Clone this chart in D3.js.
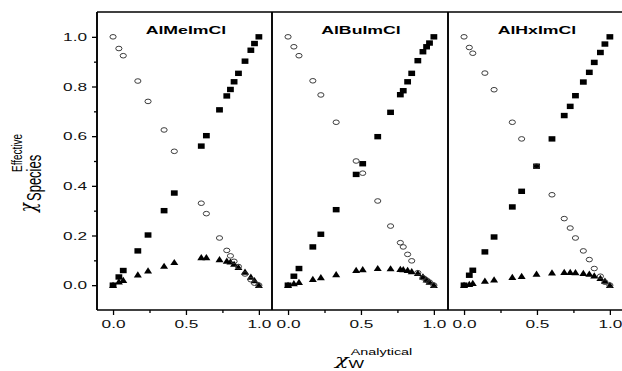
<!DOCTYPE html>
<html>
<head>
<meta charset="utf-8">
<script src="https://cdn.jsdelivr.net/npm/d3@7"></script>
<style>
  body { margin: 0; background: #fff; }
  svg { display: block; font-family: "Liberation Sans", Arial, sans-serif; }
</style>
</head>
<body>
<div id="chart"></div>
<script>
// panel titles
const titles = ["AlMeImCl", "AlBuImCl", "AlHxImCl"];

// AlMeImCl
const meX    = [0, 0.04, 0.07, 0.17, 0.24, 0.35, 0.42, 0.605, 0.64, 0.73, 0.78, 0.805, 0.83, 0.86, 0.905, 0.945, 0.97, 1.0];
const meSq   = [0, 0.033, 0.059, 0.138, 0.202, 0.30, 0.371, 0.56, 0.602, 0.706, 0.762, 0.788, 0.819, 0.853, 0.902, 0.946, 0.973, 1.0];
const meCirc = [1.0, 0.953, 0.924, 0.822, 0.74, 0.625, 0.539, 0.33, 0.288, 0.19, 0.14, 0.118, 0.096, 0.075, 0.045, 0.022, 0.008, 0];
const meTri  = [0, 0.014, 0.02, 0.042, 0.058, 0.077, 0.092, 0.112, 0.112, 0.104, 0.098, 0.094, 0.085, 0.072, 0.053, 0.033, 0.019, 0];

// AlBuImCl
const buX    = [0, 0.04, 0.075, 0.17, 0.225, 0.33, 0.467, 0.512, 0.615, 0.703, 0.77, 0.79, 0.82, 0.848, 0.89, 0.925, 0.95, 0.97, 1.0];
const buSq   = [0, 0.036, 0.067, 0.154, 0.205, 0.304, 0.446, 0.489, 0.598, 0.696, 0.767, 0.783, 0.819, 0.853, 0.904, 0.94, 0.96, 0.975, 1.0];
const buCirc = [1.0, 0.96, 0.924, 0.823, 0.766, 0.656, 0.50, 0.451, 0.339, 0.238, 0.171, 0.154, 0.124, 0.098, 0.05, 0.03, 0.02, 0.012, 0];
const buTri  = [0, 0.007, 0.012, 0.024, 0.031, 0.043, 0.06, 0.063, 0.068, 0.067, 0.064, 0.063, 0.06, 0.055, 0.048, 0.034, 0.022, 0.013, 0];

// AlHxImCl
const hxX    = [0, 0.036, 0.06, 0.143, 0.206, 0.331, 0.395, 0.497, 0.603, 0.687, 0.728, 0.764, 0.818, 0.859, 0.893, 0.935, 0.966, 1.0];
const hxSq   = [0, 0.04, 0.06, 0.134, 0.194, 0.315, 0.378, 0.479, 0.589, 0.683, 0.72, 0.763, 0.818, 0.857, 0.897, 0.937, 0.971, 1.0];
const hxCirc = [1.0, 0.957, 0.934, 0.854, 0.787, 0.656, 0.589, 0.479, 0.364, 0.268, 0.23, 0.19, 0.138, 0.103, 0.067, 0.036, 0.012, 0];
const hxTri  = [0, 0.004, 0.008, 0.017, 0.022, 0.032, 0.036, 0.045, 0.05, 0.052, 0.052, 0.051, 0.048, 0.045, 0.038, 0.028, 0.017, 0];

const xTicks = [0, 0.5, 1.0];
const xMinor = [0.25, 0.75];
const yTicks = [0, 0.2, 0.4, 0.6, 0.8, 1.0];
const yMinor = [0.1, 0.3, 0.5, 0.7, 0.9];

const panelData = [
  { x: meX, sq: meSq, circ: meCirc, tri: meTri },
  { x: buX, sq: buSq, circ: buCirc, tri: buTri },
  { x: hxX, sq: hxSq, circ: hxCirc, tri: hxTri },
];

const width = 622, height = 371;
const panelLeft = [97, 272, 448];
const panelW = 175;
const plotTop = 12, plotBottom = 310;
const sx = 1.5; // the original figure is stretched sideways

const svg = d3.select("#chart").append("svg")
  .attr("width", width)
  .attr("height", height);

const y = d3.scaleLinear().domain([-0.1, 1.1]).range([plotBottom, plotTop]);

// left axis
svg.append("g")
  .attr("transform", `translate(${panelLeft[0]},0)`)
  .call(d3.axisLeft(y).tickValues(yMinor).tickSize(3).tickFormat(""))
  .call((g) => g.select(".domain").remove());
const yAxis = svg.append("g")
  .attr("transform", `translate(${panelLeft[0]},0)`)
  .call(d3.axisLeft(y).tickValues(yTicks).tickSize(5).tickPadding(6)
    .tickFormat(d3.format(".1f")));
yAxis.select(".domain").remove();
yAxis.selectAll("text")
  .attr("font-size", 11.5)
  .attr("font-family", "Liberation Sans, Arial, sans-serif")
  .attr("fill", "#111")
  .attr("x", -10 / sx)
  .attr("transform", `scale(${sx},1)`);

svg.selectAll(".tick line").attr("stroke-width", 1.3);

// frame lines: top and bottom
svg.append("line").attr("x1", panelLeft[0]).attr("x2", width)
  .attr("y1", plotTop).attr("y2", plotTop).attr("stroke", "#000").attr("stroke-width", 1.7);
svg.append("line").attr("x1", panelLeft[0]).attr("x2", width)
  .attr("y1", plotBottom).attr("y2", plotBottom).attr("stroke", "#000").attr("stroke-width", 1.7);

panelData.forEach((p, i) => {
  const x = d3.scaleLinear().domain([-0.11, 1.09])
    .range([panelLeft[i], panelLeft[i] + panelW]);

  const g = svg.append("g");

  g.append("g")
    .attr("transform", `translate(0,${plotBottom})`)
    .call(d3.axisBottom(x).tickValues(xMinor).tickSize(3).tickFormat(""))
    .call((a) => a.select(".domain").remove());
  const xAxis = g.append("g")
    .attr("transform", `translate(0,${plotBottom})`)
    .call(d3.axisBottom(x).tickValues(xTicks).tickSize(5).tickPadding(5)
      .tickFormat(d3.format(".1f")));
  xAxis.select(".domain").remove();
  xAxis.selectAll("text")
    .attr("font-size", 11.5)
    .attr("font-family", "Liberation Sans, Arial, sans-serif")
    .attr("fill", "#111")
    .attr("transform", `scale(${sx},1)`);
  g.selectAll(".tick line").attr("stroke-width", 1.3);

  // vertical divider / left axis
  g.append("line")
    .attr("x1", panelLeft[i]).attr("x2", panelLeft[i])
    .attr("y1", plotTop).attr("y2", plotBottom)
    .attr("stroke", "#000").attr("stroke-width", 1.9);

  // title
  g.append("text")
    .attr("transform", `translate(${x(0.5)},34) scale(${sx},1)`)
    .attr("text-anchor", "middle")
    .attr("font-weight", "bold")
    .attr("font-size", 11.8)
    .text(titles[i]);

  const pts = p.x.map((v, k) => ({ x: v, sq: p.sq[k], circ: p.circ[k], tri: p.tri[k] }));

  g.append("g").selectAll("rect")
    .data(pts).join("rect")
    .attr("x", (d) => x(d.x) - 3.4)
    .attr("y", (d) => y(d.sq) - 2.7)
    .attr("width", 6.8)
    .attr("height", 5.4)
    .attr("fill", "#000");

  g.append("g").selectAll("path")
    .data(pts).join("path")
    .attr("transform", (d) => `translate(${x(d.x)},${y(d.tri)})`)
    .attr("d", "M-4,2.8L4,2.8L0,-3.4Z")
    .attr("fill", "#000");

  g.append("g").selectAll("ellipse")
    .data(pts).join("ellipse")
    .attr("cx", (d) => x(d.x))
    .attr("cy", (d) => y(d.circ))
    .attr("rx", 3.1)
    .attr("ry", 2.3)
    .attr("fill", "none")
    .attr("stroke", "#333")
    .attr("stroke-width", 0.95);
});

// y axis title
const yt = svg.append("g")
  .attr("transform", `translate(35,212) scale(${sx},1) rotate(-90)`);
yt.append("text").attr("x", 0).attr("y", 0)
  .attr("font-size", 15).attr("font-family", "DejaVu Serif, serif").attr("font-style", "italic")
  .text("χ");
yt.append("text").attr("x", 11).attr("y", 4)
  .attr("font-size", 13).text("Species");
yt.append("text").attr("x", 40).attr("y", -8.7)
  .attr("font-size", 10).text("Effective");

// x axis title
const xt = svg.append("g")
  .attr("transform", `translate(335,365) scale(${sx},1)`);
xt.append("text").attr("x", 0).attr("y", 0)
  .attr("font-size", 15).attr("font-family", "DejaVu Serif, serif").attr("font-style", "italic")
  .text("χ");
xt.append("text").attr("x", 9).attr("y", 3)
  .attr("font-size", 11).text("W");
xt.append("text").attr("x", 10.5).attr("y", -10)
  .attr("font-size", 9.6).text("Analytical");
</script>
</body>
</html>
